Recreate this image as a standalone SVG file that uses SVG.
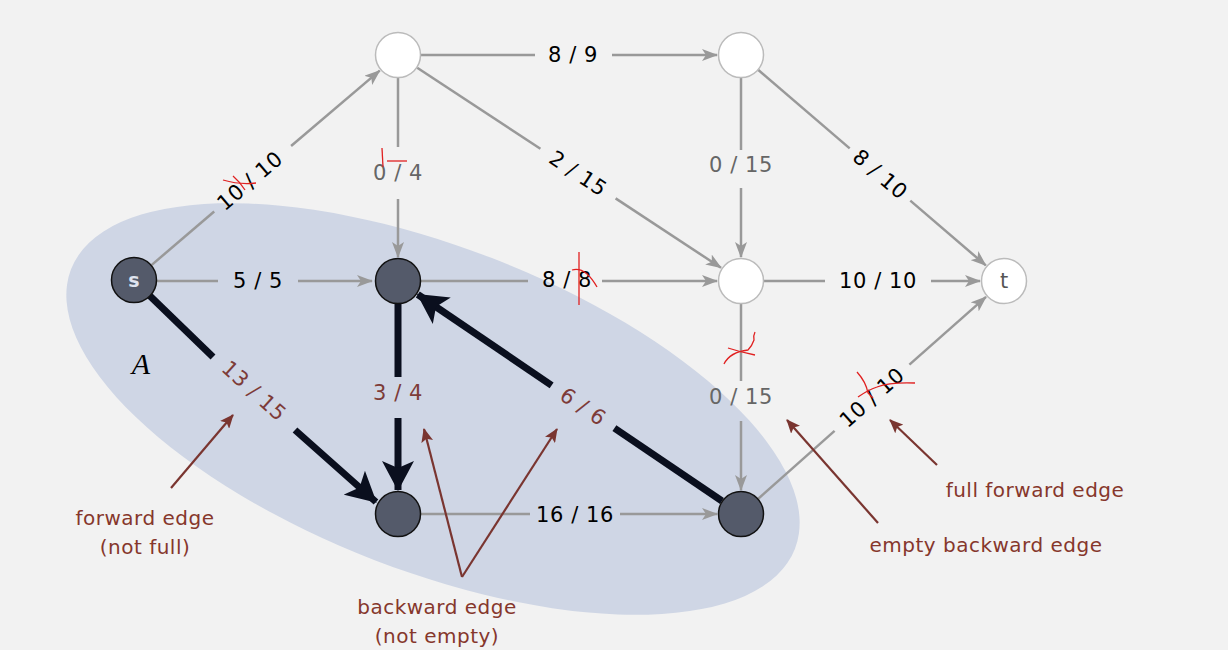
<svg xmlns="http://www.w3.org/2000/svg" width="1228" height="650" viewBox="0 0 1228 650">
<defs>
<marker id="ag" markerUnits="userSpaceOnUse" markerWidth="16" markerHeight="12" viewBox="0 0 16 12" refX="15" refY="6" orient="auto"><path d="M0,0 L16,6 L0,12 L4,6 z" fill="#999"/></marker>
<marker id="ab" markerUnits="userSpaceOnUse" markerWidth="30" markerHeight="32" viewBox="0 0 30 32" refX="29" refY="16" orient="auto"><path d="M0,0 L30,16 L0,32 L7,16 z" fill="#0a0f1e"/></marker>
<marker id="ar" markerUnits="userSpaceOnUse" markerWidth="14" markerHeight="12" viewBox="0 0 14 12" refX="13" refY="6" orient="auto"><path d="M0,0 L14,6 L0,12 L3,6 z" fill="#7a3530"/></marker>
</defs>
<style>
.e{stroke:#999;stroke-width:2.5;fill:none}
.ea{stroke:#999;stroke-width:2.5;fill:none;marker-end:url(#ag)}
.t{stroke:#0a0f1e;stroke-width:7;fill:none}
.ta{stroke:#0a0f1e;stroke-width:7;fill:none;marker-end:url(#ab)}
.lb{font-family:"DejaVu Sans",Verdana,sans-serif;font-size:21px;letter-spacing:0.6px;text-anchor:middle;dominant-baseline:central;fill:#000}
.gr{fill:#666}
.br{fill:#7d3b38}
.an{font-family:"DejaVu Sans",Verdana,sans-serif;font-size:20px;letter-spacing:0.5px;text-anchor:middle;fill:#86372c}
.ar{stroke:#7a3530;stroke-width:2.2;fill:none;marker-end:url(#ar)}
.rd{stroke:#e02020;stroke-width:1.3;fill:none}
.dk{fill:#545a6a;stroke:#111;stroke-width:1.5}
.wh{fill:#fff;stroke:#bbb;stroke-width:1.5}
</style>
<rect width="1228" height="650" fill="#f2f2f2"/>
<ellipse cx="433" cy="409" rx="388" ry="162" transform="rotate(21.1 433 409)" fill="#cfd6e5"/>
<text x="141" y="374" font-family="'Liberation Serif',serif" font-style="italic" font-size="30" text-anchor="middle" fill="#000">A</text>
<g id="connectors">
<path class="e" d="M151.5,265.1 L214.2,211.5"/>
<path class="ea" d="M291.1,146 L379.7,70.6"/>
<text class="lb" transform="translate(250 181) rotate(-40.4)">10 / 10</text>
<path class="e" d="M421,55 L535,55"/>
<path class="ea" d="M612,55 L717,55"/>
<text class="lb" x="573" y="55">8 / 9</text>
<path class="e" d="M398,78 L398,147"/>
<path class="ea" d="M398,199 L398,257"/>
<text class="lb gr" x="398" y="173">0 / 4</text>
<path class="e" d="M417.2,67.7 L540.4,148.8"/>
<path class="ea" d="M615.6,198.4 L721,267.8"/>
<text class="lb" transform="translate(578 173.6) rotate(33.4)">2 / 15</text>
<path class="e" d="M741,78 L741,150"/>
<path class="ea" d="M741,188 L741,257"/>
<text class="lb gr" x="741" y="165">0 / 15</text>
<path class="e" d="M758.4,70 L849.7,148.4"/>
<path class="ea" d="M910.3,200.6 L985.8,265.4"/>
<text class="lb" transform="translate(880 174.5) rotate(40.7)">8 / 10</text>
<path class="e" d="M157,281 L218,281"/>
<path class="ea" d="M298,281 L372,281"/>
<text class="lb" x="258" y="281">5 / 5</text>
<path class="e" d="M421,281 L528,281"/>
<path class="ea" d="M602,281 L717,281"/>
<text class="lb" x="567" y="280">8 / 8</text>
<path class="e" d="M764,281 L825,281"/>
<path class="ea" d="M931,281 L980,281"/>
<text class="lb" x="878" y="281">10 / 10</text>
<path class="e" d="M741,304 L741,381"/>
<path class="ea" d="M741,421 L741,490"/>
<text class="lb gr" x="741" y="397">0 / 15</text>
<path class="e" d="M758.2,498.8 L834.6,430.9"/>
<path class="ea" d="M909.4,364.6 L986,296.9"/>
<text class="lb" transform="translate(872 397.7) rotate(-41.5)">10 / 10</text>
<path class="e" d="M421,514 L530,514"/>
<path class="ea" d="M620,514 L717,514"/>
<text class="lb" x="575" y="515">16 / 16</text>
<path class="t" d="M150,296 L213,357"/>
<path class="ta" d="M295,430 L376,502"/>
<text class="lb br" transform="translate(254 391) rotate(42)">13 / 15</text>
<path class="t" d="M398,304 L398,377"/>
<path class="ta" d="M398,418 L398,490"/>
<text class="lb br" x="398" y="393">3 / 4</text>
<path class="t" d="M722,501 L614.4,428.1"/>
<path class="ta" d="M551.6,385.3 L417.8,294.5"/>
<text class="lb br" transform="translate(583 406.7) rotate(34.2)">6 / 6</text>
</g>
<g id="redmarks">
<path class="rd" d="M223,180 Q240,185 256,183"/>
<path class="rd" d="M233,176 Q240,182 245,190"/>
<path class="rd" d="M382,148 L383,167"/>
<path class="rd" d="M387,161 L407,161"/>
<path class="rd" d="M579,252 L579,305"/>
<path class="rd" d="M572,270 Q585,266 597,287"/>
<path class="rd" d="M724,364 Q730,352 748,350 Q752,346 754,340 Q753,336 755,332"/>
<path class="rd" d="M728,348 Q740,352 755,355"/>
<path class="rd" d="M857,372 Q866,382 868,393 L873,398"/>
<path class="rd" d="M858,397 Q868,390 877,387 Q890,382 915,383"/>
</g>
<g id="node-s"><circle class="dk" cx="134" cy="280" r="22.5"/><text x="134" y="287" font-family="'DejaVu Sans',sans-serif" font-weight="bold" font-size="19" fill="#dfe3ee" text-anchor="middle">s</text></g>
<g id="node-a"><circle class="wh" cx="398" cy="55" r="22.5"/></g>
<g id="node-b"><circle class="wh" cx="741" cy="55" r="22.5"/></g>
<g id="node-c"><circle class="dk" cx="398" cy="281" r="22.5"/></g>
<g id="node-d"><circle class="wh" cx="741" cy="281" r="22.5"/></g>
<g id="node-t"><circle class="wh" cx="1004" cy="281" r="22.5"/><text x="1004" y="288" font-family="'DejaVu Sans',sans-serif" font-size="21" fill="#555" text-anchor="middle">t</text></g>
<g id="node-e"><circle class="dk" cx="398" cy="514" r="22.5"/></g>
<g id="node-f"><circle class="dk" cx="741" cy="514" r="22.5"/></g>
<g id="annotations">
<path class="ar" d="M171,488 L233,415"/>
<text class="an" x="145" y="525">forward edge</text>
<text class="an" x="145" y="554">(not full)</text>
<path class="ar" d="M462,577 L424,429"/>
<path class="ar" d="M462,577 L557,429"/>
<text class="an" x="437" y="614">backward edge</text>
<text class="an" x="437" y="643">(not empty)</text>
<path class="ar" d="M878,523 L787,420"/>
<text class="an" x="986" y="552">empty backward edge</text>
<path class="ar" d="M937,465 L890,420"/>
<text class="an" x="1035" y="497">full forward edge</text>
</g>
</svg>
